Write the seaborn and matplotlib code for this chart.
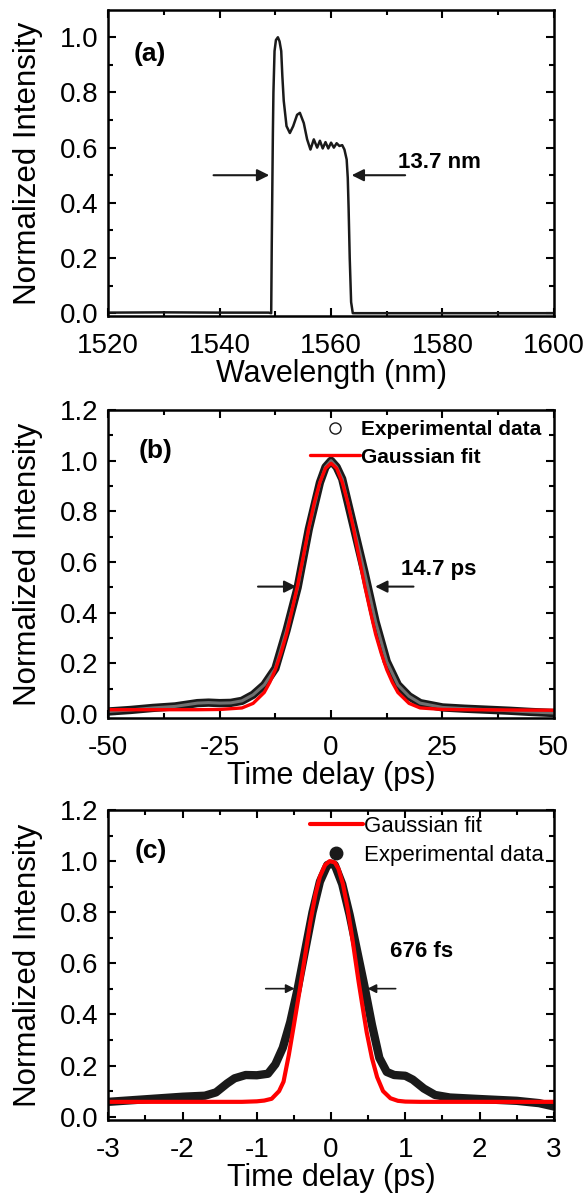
import matplotlib
matplotlib.use("Agg")
import matplotlib.pyplot as plt
from matplotlib.lines import Line2D
from matplotlib.ticker import MultipleLocator, FormatStrFormatter
import seaborn as sns

# (a) spectrum
wavelength_nm = [1520, 1530, 1540, 1548.8, 1549.25, 1549.35, 1549.45, 1549.55, 1549.65,
                 1549.85, 1550.1, 1550.45, 1550.75, 1551.05, 1551.25, 1551.5, 1552.0,
                 1552.6, 1553.2, 1553.9, 1554.4, 1555.1, 1555.7, 1556.3, 1556.9, 1557.5,
                 1558.0, 1558.5, 1559.0, 1559.5, 1560.0, 1560.5, 1561.0, 1561.5, 1562.0,
                 1562.4, 1562.8, 1563.0, 1563.15, 1563.35, 1563.6, 1563.9, 1570, 1580,
                 1590, 1600]
spectrum = [0.002, 0.003, 0.002, 0.002, 0.0, 0.25, 0.45, 0.65, 0.8,
            0.95, 0.99, 1.0, 0.985, 0.95, 0.86, 0.77, 0.678,
            0.653, 0.678, 0.719, 0.726, 0.689, 0.63, 0.593, 0.63, 0.6,
            0.625, 0.597, 0.62, 0.597, 0.618, 0.6, 0.616, 0.606, 0.609,
            0.593, 0.557, 0.49, 0.38, 0.2, 0.04, 0.0, 0.0, 0.0,
            0.0, 0.0]

# (b) ps autocorrelation
tb_exp = [-50, -45, -40, -35, -30, -27.5, -25, -22.5, -20, -17.5, -15, -12.5, -10,
          -7.5, -5, -2.5, -1.25, 0, 1.25, 2.5, 5, 7.5, 10, 12.5, 15, 17.5, 20, 25,
          30, 35, 40, 45, 50]
ib_exp = [0.01, 0.016, 0.024, 0.03, 0.043, 0.045, 0.043, 0.044, 0.052, 0.076, 0.115,
          0.18, 0.33, 0.50, 0.73, 0.914, 0.975, 1.0, 0.975, 0.928, 0.744, 0.56, 0.364,
          0.207, 0.115, 0.07, 0.043, 0.026, 0.021, 0.017, 0.013, 0.008, 0.004]
tb_fit = [-50, -30, -25, -20, -17.5, -15, -13.75, -12.5, -11.25, -10, -8.75, -7.5,
          -6.25, -5, -3.75, -2.5, -1.25, 0, 1.25, 2.5, 3.75, 5, 6.25, 7.5, 8.75, 10,
          11.25, 12.5, 13.75, 15, 17.5, 20, 25, 30, 50]
ib_fit = [0.017, 0.017, 0.018, 0.024, 0.042, 0.085, 0.125, 0.175, 0.24, 0.315, 0.41,
          0.51, 0.62, 0.735, 0.835, 0.915, 0.97, 0.99, 0.97, 0.915, 0.835, 0.735, 0.62,
          0.51, 0.41, 0.315, 0.24, 0.175, 0.125, 0.085, 0.042, 0.024, 0.018, 0.017,
          0.015]

# (c) fs autocorrelation
tc_exp = [-3, -2.5, -2, -1.7, -1.55, -1.4, -1.3, -1.15, -1.0, -0.85, -0.75, -0.65,
          -0.55, -0.45, -0.35, -0.25, -0.15, -0.05, 0, 0.05, 0.15, 0.25, 0.35, 0.45,
          0.55, 0.65, 0.75, 0.85, 1.0, 1.1, 1.25, 1.4, 1.6, 2.0, 2.5, 2.8, 3.0]
ic_exp = [0.058, 0.068, 0.078, 0.082, 0.095, 0.13, 0.15, 0.163, 0.162, 0.168, 0.205,
          0.27, 0.37, 0.5, 0.65, 0.8, 0.92, 0.985, 0.99, 0.985, 0.91, 0.79, 0.65, 0.51,
          0.36, 0.23, 0.175, 0.163, 0.16, 0.145, 0.11, 0.085, 0.075, 0.069, 0.062,
          0.053, 0.04]
tc_fit = [-3, -1.5, -1.2, -1.0, -0.9, -0.8, -0.7, -0.64, -0.57, -0.5, -0.42, -0.35,
          -0.28, -0.21, -0.15, -0.08, -0.02, 0.05, 0.1, 0.16, 0.22, 0.29, 0.37, 0.43,
          0.48, 0.55, 0.62, 0.7, 0.8, 0.9, 1.0, 1.2, 1.5, 3]
ic_fit = [0.058, 0.058, 0.058, 0.06, 0.063, 0.07, 0.1, 0.137, 0.24, 0.36, 0.5, 0.63,
          0.76, 0.87, 0.94, 0.985, 1.0, 0.995, 0.97, 0.91, 0.82, 0.69, 0.53, 0.42,
          0.33, 0.23, 0.155, 0.1, 0.072, 0.062, 0.059, 0.058, 0.058, 0.058]

sns.set_theme(style="ticks")
plt.rcParams['font.family'] = ['Liberation Sans', 'DejaVu Sans']
plt.rcParams['axes.unicode_minus'] = False
for key in ['axes.edgecolor', 'xtick.color', 'ytick.color', 'text.color',
            'axes.labelcolor', 'xtick.labelcolor', 'ytick.labelcolor']:
    plt.rcParams[key] = 'black'

TICK_FS = 20
XLABEL_FS = 22
YLABEL_FS = 22.5


def style_axis(ax, xlim, ylim, xmajor, xminor, xlabel):
    ax.set_xlim(xlim)
    ax.set_ylim(ylim)
    ax.xaxis.set_major_locator(MultipleLocator(xmajor))
    ax.xaxis.set_minor_locator(MultipleLocator(xminor))
    ax.yaxis.set_major_locator(MultipleLocator(0.2))
    ax.yaxis.set_minor_locator(MultipleLocator(0.1))
    ax.yaxis.set_major_formatter(FormatStrFormatter('%.1f'))
    ax.tick_params(which='both', direction='in', top=True, right=True, width=1.5)
    ax.tick_params(which='major', length=6, labelsize=TICK_FS)
    ax.tick_params(which='minor', length=3.6)
    ax.tick_params(axis='x', which='major', pad=12)
    ax.tick_params(axis='y', which='major', pad=7)
    for s in ax.spines.values():
        s.set_linewidth(1.8)
    ax.set_xlabel(xlabel, fontsize=XLABEL_FS, labelpad=0)
    ax.set_ylabel('Normalized Intensity', fontsize=YLABEL_FS, labelpad=12)


def arrow(ax, tail, tip, lw=1.5, scale=18):
    ax.annotate('', xy=tip, xytext=tail,
                arrowprops=dict(arrowstyle='-|>', color='k', lw=lw,
                                mutation_scale=scale, shrinkA=0, shrinkB=0))


fig = plt.figure(figsize=(5.87, 11.99), dpi=100)
ax_a = fig.add_axes([0.1845, 0.7365, 0.759, 0.2552])
ax_b = fig.add_axes([0.1845, 0.4009, 0.759, 0.2571])
ax_c = fig.add_axes([0.1845, 0.0659, 0.759, 0.2585])

# (a)
sns.lineplot(x=wavelength_nm, y=spectrum, color='k', lw=1.8, sort=False,
             estimator=None, ax=ax_a)
style_axis(ax_a, (1520, 1600), (-0.01, 1.099), 20, 10, 'Wavelength (nm)')
ax_a.text(1524.5, 0.94, '(a)', fontsize=19, fontweight='bold', va='center')
ax_a.text(1572.0, 0.545, '13.7 nm', fontsize=16, fontweight='bold', va='center')
arrow(ax_a, (1538.9, 0.5), (1548.9, 0.5))
arrow(ax_a, (1573.3, 0.5), (1563.7, 0.5))

# (b)
sns.lineplot(x=tb_exp, y=ib_exp, color='k', lw=6, sort=False, estimator=None,
             ax=ax_b)
sns.lineplot(x=tb_exp, y=ib_exp, color='#707070', lw=2.2, sort=False, estimator=None,
             ax=ax_b)
sns.lineplot(x=tb_fit, y=ib_fit, color='#ff0000', lw=2.4, sort=False, estimator=None,
             ax=ax_b)
style_axis(ax_b, (-50, 50), (-0.017, 1.2), 25, 12.5, 'Time delay (ps)')
ax_b.text(-43.1, 1.04, '(b)', fontsize=19, fontweight='bold', va='center')
ax_b.text(15.8, 0.569, '14.7 ps', fontsize=16, fontweight='bold', va='center')
arrow(ax_b, (-16.4, 0.503), (-7.8, 0.503))
arrow(ax_b, (18.5, 0.503), (9.9, 0.503))
handles_b = [Line2D([], [], ls='none', marker='o', ms=8, mfc='white', mec='k', mew=1),
             Line2D([], [], color='#ff0000', lw=2.4)]
ax_b.legend(handles_b, ['Experimental data', 'Gaussian fit'], loc='upper left',
            bbox_to_anchor=(0.453, 0.968), frameon=False, borderpad=0,
            borderaxespad=0, handlelength=2.4, handletextpad=0.05, labelspacing=0.42,
            prop={'size': 15, 'weight': 'bold'})

# (c)
sns.lineplot(x=tc_exp, y=ic_exp, color='k', lw=6, sort=False, estimator=None, ax=ax_c)
sns.lineplot(x=tc_fit, y=ic_fit, color='#ff0000', lw=3, sort=False, estimator=None,
             ax=ax_c)
style_axis(ax_c, (-3, 3), (-0.013, 1.2), 1, 0.5, 'Time delay (ps)')
ax_c.text(-2.64, 1.04, '(c)', fontsize=19, fontweight='bold', va='center')
ax_c.text(0.795, 0.647, '676 fs', fontsize=16, fontweight='bold', va='center')
arrow(ax_c, (-0.88, 0.501), (-0.49, 0.501), lw=1.2, scale=13)
arrow(ax_c, (0.87, 0.501), (0.49, 0.501), lw=1.2, scale=13)
handles_c = [Line2D([], [], color='#ff0000', lw=3),
             Line2D([], [], ls='none', marker='o', ms=9, mfc='k', mec='k')]
ax_c.legend(handles_c, ['Gaussian fit', 'Experimental data'], loc='upper left',
            bbox_to_anchor=(0.452, 0.982), frameon=False, borderpad=0,
            borderaxespad=0, handlelength=2.4, handletextpad=0.05, labelspacing=0.38,
            prop={'size': 16})

fig.savefig('out.png', dpi=100)
